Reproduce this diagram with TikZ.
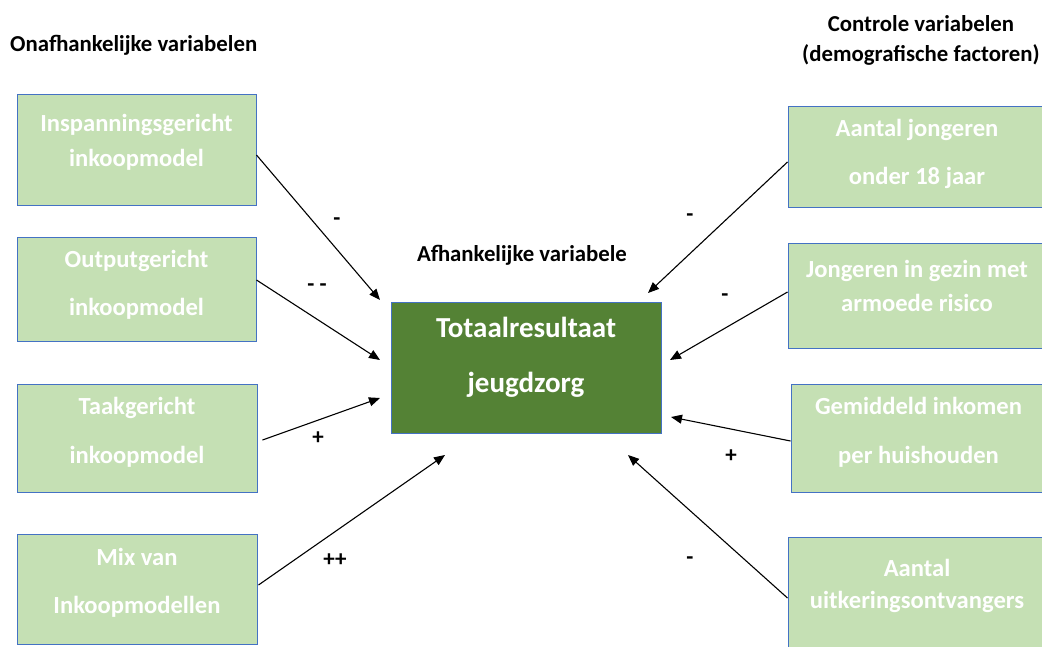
\documentclass[tikz,border=0pt]{standalone}
\usepackage{fontspec}
\setmainfont{Carlito}
\usetikzlibrary{arrows.meta}
\definecolor{lgreen}{HTML}{C5E0B4}
\definecolor{dgreen}{HTML}{548235}
\definecolor{bblue}{HTML}{4472C4}
\tikzset{
  box/.style={draw=bblue, line width=1pt, fill=lgreen, rectangle, inner sep=0pt},
  mainbox/.style={draw=bblue, line width=1pt, fill=dgreen, rectangle, inner sep=0pt},
  boxtxt/.style={text=white, align=center, inner sep=0pt},
  head/.style={text=black, font=\bfseries\fontsize{22.8}{30}\selectfont, align=center, inner sep=0pt},
  sign/.style={text=black, font=\bfseries\fontsize{23}{24}\selectfont, inner sep=0pt},
  conn/.style={line width=1.1pt, -{Triangle[length=11pt,width=9pt]}},
}
\newcommand{\bt}[1]{\bfseries\fontsize{24.6}{#1}\selectfont}
\begin{document}
\begin{tikzpicture}[x=1pt,y=-1pt]
\useasboundingbox (0,0) rectangle (1042,646);
% headings
\node[head, anchor=west] (h1) at (10,45) {Onafhankelijke variabelen};
\node[head] (h2) at (921,40) {Controle variabelen\\(demografische factoren)};
\node[head] (h3) at (522,255) {Afhankelijke variabele};
% left boxes
\node[box, minimum width=239pt, minimum height=111pt] (b1) at (136.5,149.5) {};
\node[boxtxt, font=\bt{35}] (t1) at (136.5,142) {Inspanningsgericht\\inkoopmodel};
\node[box, minimum width=239pt, minimum height=104pt] (b2) at (136.5,289) {};
\node[boxtxt, font=\bt{48}] (t2) at (136.5,285) {Outputgericht\\inkoopmodel};
\node[box, minimum width=240pt, minimum height=108pt] (b3) at (137,438) {};
\node[boxtxt, font=\bt{49}] (t3) at (137,432) {Taakgericht\\inkoopmodel};
\node[box, minimum width=240pt, minimum height=110pt] (b4) at (137,589) {};
\node[boxtxt, font=\bt{48}] (t4) at (137,583) {Mix van\\Inkoopmodellen};
% center box
\node[mainbox, minimum width=270pt, minimum height=131pt] (c) at (526,367.5) {};
\node[boxtxt, font=\bfseries\fontsize{29}{55}\selectfont] (ct) at (526,357) {Totaalresultaat\\jeugdzorg};
% right boxes
\node[box, minimum width=258pt, minimum height=101pt] (r1) at (917,156.5) {};
\node[boxtxt, font=\bt{48}] (rt1) at (917,154) {Aantal jongeren\\onder 18 jaar};
\node[box, minimum width=258pt, minimum height=105pt] (r2) at (917,295.5) {};
\node[boxtxt, font=\bt{34}] (rt2) at (917,286) {Jongeren in gezin met\\armoede risico};
\node[box, minimum width=255pt, minimum height=108pt] (r3) at (918.5,438) {};
\node[boxtxt, font=\bt{49}] (rt3) at (918.5,432) {Gemiddeld inkomen\\per huishouden};
\node[box, minimum width=258pt, minimum height=112pt] (r4) at (917,593) {};
\node[boxtxt, font=\bt{32}] (rt4) at (917,586) {Aantal\\uitkeringsontvangers};
% arrow targets
\coordinate (e1) at (380,300);
\coordinate (e2) at (380,360);
\coordinate (e3) at (380,398);
\coordinate (e4) at (445,455);
\coordinate (f1) at (648,293);
\coordinate (f2) at (670,360);
\coordinate (f3) at (671,417);
\coordinate (f4) at (628,455);
% connectors
\draw[conn] ([yshift=-5.5pt]b1.east) -- (e1);
\draw[conn] ([yshift=9pt]b2.east) -- (e2);
\draw[conn] ([xshift=5pt,yshift=-2pt]b3.east) -- (e3);
\draw[conn] ([xshift=1pt,yshift=4pt]b4.east) -- (e4);
\draw[conn] ([yshift=-5.5pt]r1.west) -- (f1);
\draw[conn] ([yshift=3.5pt]r2.west) -- (f2);
\draw[conn] ([yshift=-3pt]r3.west) -- (f3);
\draw[conn] ([yshift=-5pt]r4.west) -- (f4);
% signs
\node[sign] (s1) at (337,222) {-};
\node[sign] (s2) at (317,288) {- -};
\node[sign] (s3) at (318,438) {+};
\node[sign] (s4) at (335,560) {++};
\node[sign] (s5) at (690,218) {-};
\node[sign] (s6) at (725,298) {-};
\node[sign] (s7) at (731,456) {+};
\node[sign] (s8) at (690,561) {-};
\end{tikzpicture}
\end{document}
